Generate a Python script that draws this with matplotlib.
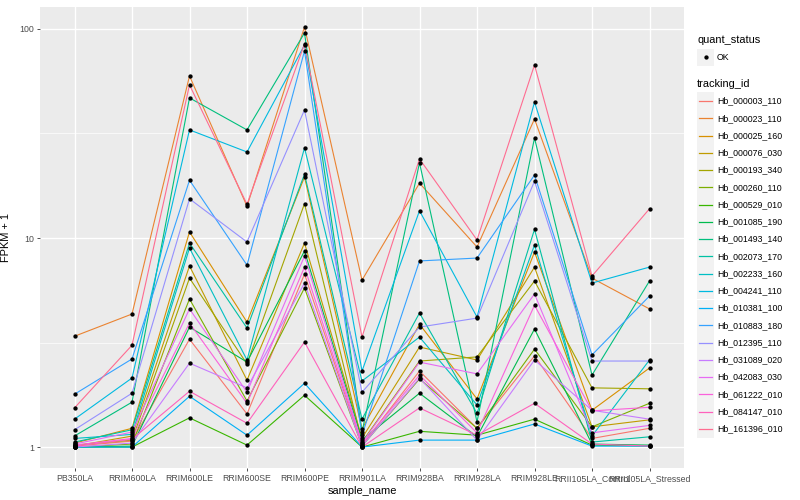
''' FPKM + 1 per sample for 20 tracked genes, ggplot look '''

import matplotlib
matplotlib.use('Agg')
import matplotlib.pyplot as plt
from matplotlib.patches import Rectangle
from matplotlib.lines import Line2D

plt.rcParams['font.family'] = ['Liberation Sans', 'DejaVu Sans']

samples = ['PB350LA', 'RRIM600LA', 'RRIM600LE', 'RRIM600SE', 'RRIM600PE', 'RRIM901LA',
           'RRIM928BA', 'RRIM928LA', 'RRIM928LE', 'RRII105LA_Control', 'RRII105LA_Stressed']

genes = ['Hb_000003_110', 'Hb_000023_110', 'Hb_000025_160', 'Hb_000076_030', 'Hb_000193_340',
         'Hb_000260_110', 'Hb_000529_010', 'Hb_001085_190', 'Hb_001493_140', 'Hb_002073_170',
         'Hb_002233_160', 'Hb_004241_110', 'Hb_010381_100', 'Hb_010883_180', 'Hb_012395_110',
         'Hb_031089_020', 'Hb_042083_030', 'Hb_061222_010', 'Hb_084147_010', 'Hb_161396_010']

# ggplot hue palette for 20 levels
colours = ['#F8766D', '#EA8331', '#D89000', '#C09B00', '#A3A500', '#7CAE00', '#39B600',
           '#00BB4E', '#00BF7D', '#00C1A3', '#00BFC4', '#00BAE0', '#00B0F6', '#35A2FF',
           '#9590FF', '#C77CFF', '#E76BF3', '#FA62DB', '#FF62BC', '#FF6C91']

# FPKM + 1, one list per gene, in sample order
hb_000003_110 = [1.011, 1.068, 3.28, 1.44, 6.72, 1.022, 2.31, 1.23, 2.73, 1.10, 1.23]
hb_000023_110 = [3.39, 4.33, 59.6, 14.2, 102.2, 6.29, 18.3, 9.06, 37.1, 6.43, 4.58]
hb_000025_160 = [1.045, 1.23, 10.7, 3.96, 19.6, 1.22, 3.87, 1.70, 8.57, 1.50, 2.39]
hb_000076_030 = [1.011, 1.129, 7.35, 2.09, 9.46, 1.104, 3.01, 2.61, 7.26, 1.25, 1.35]
hb_000193_340 = [1.022, 1.080, 6.43, 2.50, 14.6, 1.057, 2.58, 2.70, 6.23, 1.92, 1.90]
hb_000260_110 = [1.00, 1.034, 5.11, 1.66, 5.77, 1.011, 2.12, 1.23, 2.94, 1.25, 1.62]
hb_000529_010 = [1.00, 1.00, 1.38, 1.022, 1.77, 1.00, 1.19, 1.14, 1.36, 1.022, 1.011]
hb_001085_190 = [1.00, 1.011, 3.75, 2.55, 8.67, 1.08, 1.81, 1.12, 3.67, 1.034, 1.022]
hb_001493_140 = [1.13, 1.64, 46.8, 32.9, 95.7, 1.18, 22.9, 1.32, 30.1, 2.21, 6.23]
hb_002073_170 = [1.057, 1.21, 9.46, 3.71, 20.2, 1.36, 4.38, 1.45, 11.0, 1.057, 1.12]
hb_002233_160 = [1.10, 1.15, 8.96, 2.61, 27.0, 2.07, 3.36, 1.59, 9.26, 1.13, 2.61]
hb_004241_110 = [1.36, 2.14, 32.9, 25.8, 83.8, 2.31, 13.5, 4.19, 44.7, 6.09, 7.26]
hb_010381_100 = [1.00, 1.00, 1.75, 1.14, 2.02, 1.00, 1.08, 1.08, 1.29, 1.011, 1.011]
hb_010883_180 = [1.79, 2.64, 18.9, 7.42, 78.5, 1.14, 7.77, 8.02, 20.0, 2.76, 5.28]
hb_012395_110 = [1.21, 1.81, 15.4, 9.57, 41.0, 1.83, 3.75, 4.14, 18.7, 2.58, 2.58]
hb_031089_020 = [1.00, 1.045, 2.52, 1.92, 6.09, 1.011, 2.14, 1.08, 2.61, 1.50, 1.36]
hb_042083_030 = [1.034, 1.18, 4.58, 1.83, 8.20, 1.045, 2.55, 2.24, 5.40, 1.17, 1.27]
hb_061222_010 = [1.022, 1.10, 3.92, 1.62, 7.26, 1.034, 2.21, 1.17, 4.77, 1.49, 1.55]
hb_084147_010 = [1.011, 1.09, 1.85, 1.30, 3.18, 1.00, 1.54, 1.14, 1.62, 1.034, 1.011]
hb_161396_010 = [1.54, 3.07, 54.0, 14.5, 84.8, 3.36, 23.9, 9.79, 67.3, 6.58, 13.8]

series = [hb_000003_110, hb_000023_110, hb_000025_160, hb_000076_030, hb_000193_340,
          hb_000260_110, hb_000529_010, hb_001085_190, hb_001493_140, hb_002073_170,
          hb_002233_160, hb_004241_110, hb_010381_100, hb_010883_180, hb_012395_110,
          hb_031089_020, hb_042083_030, hb_061222_010, hb_084147_010, hb_161396_010]

fig = plt.figure(figsize=(8, 5), dpi=100)
ax = fig.add_axes([40 / 800, 32 / 500, 644 / 800, 461 / 500])
ax.set_facecolor('#EBEBEB')
for s in ax.spines.values():
    s.set_visible(False)

xs = list(range(len(samples)))
for vals, c in zip(series, colours):
    ax.plot(xs, vals, color=c, lw=0.8, zorder=2)
for vals in series:
    ax.plot(xs, vals, ls='none', marker='o', ms=2.1, color='black', zorder=3)

ax.set_yscale('log')
ax.set_ylim(10 ** -0.1, 10 ** 2.105)
ax.set_xlim(-0.6, len(samples) - 0.4)
ax.set_yticks([1, 10, 100])
ax.set_yticklabels(['1', '10', '100'])
ax.set_yticks([10 ** 0.5, 10 ** 1.5], minor=True)
ax.set_yticklabels([], minor=True)
ax.set_xticks(xs)
ax.set_xticklabels(samples)
ax.tick_params(which='major', length=2.2, width=0.6, color='#333333', labelcolor='#4D4D4D',
               labelsize=6.3, pad=2)
ax.tick_params(which='minor', length=0)
ax.grid(which='major', color='white', lw=1.0, zorder=0)
ax.grid(which='minor', axis='y', color='white', lw=0.5, zorder=0)
ax.set_axisbelow(True)
ax.set_xlabel('sample_name', fontsize=7.9, labelpad=2)
ax.set_ylabel('FPKM + 1', fontsize=7.9, labelpad=6)

# legend drawn by hand in figure pixels
def px(x, y):
    return x / 800, 1 - y / 500

fig.text(*px(697, 40), 'quant_status', fontsize=7.9, va='center', ha='left')
fig.add_artist(Rectangle(px(697, 66), 17 / 800, 17 / 500, transform=fig.transFigure,
                         facecolor='#F2F2F2', edgecolor='none'))
fig.add_artist(Line2D([px(705.5, 57)[0]], [px(705.5, 57)[1]], transform=fig.transFigure,
                      marker='o', ms=2.1, color='black', ls='none'))
fig.text(*px(717, 57), 'OK', fontsize=6.3, va='center', ha='left')

fig.text(*px(697, 84), 'tracking_id', fontsize=7.9, va='center', ha='left')
for i, (g, c) in enumerate(zip(genes, colours)):
    yc = 101 + i * 17.26
    fig.add_artist(Rectangle(px(697, yc + 8.6), 17 / 800, 17.2 / 500, transform=fig.transFigure,
                             facecolor='#F2F2F2', edgecolor='none'))
    x0, y0 = px(699, yc)
    x1, _ = px(712, yc)
    fig.add_artist(Line2D([x0, x1], [y0, y0], transform=fig.transFigure, color=c, lw=0.9))
    fig.text(*px(717, yc), g, fontsize=6.3, va='center', ha='left')

fig.savefig('out.png', dpi=100)
